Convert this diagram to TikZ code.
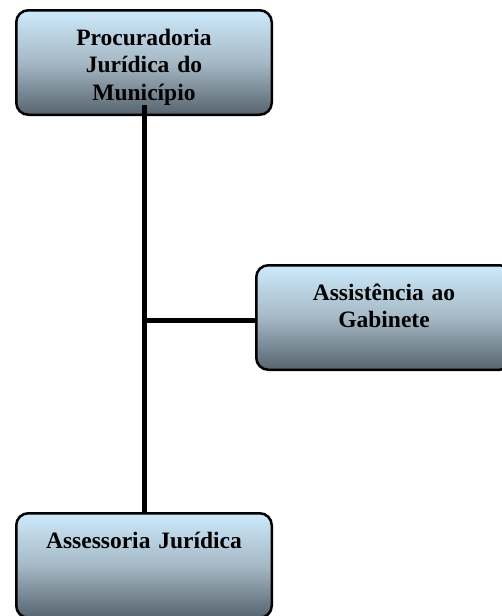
\documentclass[tikz,border=0pt]{standalone}
\usepackage{fontspec}
\setmainfont{Liberation Serif}
\usepackage{xcolor}
\usetikzlibrary{positioning}
\definecolor{boxtop}{RGB}{205,234,252}
\definecolor{boxmid}{RGB}{165,184,196}
\definecolor{boxbot}{RGB}{86,100,111}

\begin{document}
\begin{tikzpicture}[
                    every node/.append style = {font = \bfseries\fontsize{23.5}{27.5}\selectfont},
                    orgbox/.style = {draw, line width = 2.5pt, rounded corners = 12pt,
                        top color = boxtop, bottom color = boxbot, middle color = boxmid,
                        minimum width = 255.5pt, text width = 240pt, align = center,
                        inner xsep = 4pt, inner ysep = 2pt, text height = 32.75pt, text depth = 67.75pt},
                    conn/.style = {line width = 5pt}]
                \useasboundingbox (0pt,0pt) rectangle (501pt,-616pt);
                \node[orgbox, anchor = north west] (proc) at (15pt,-9pt) {Procuradoria\\ Jurídica do\\ Município};
                \node[orgbox, below right = 148pt and -18pt of proc] (gab) {Assistência ao\\ Gabinete};
                \node[orgbox, below = 396pt of proc] (asses) {Assessoria Jurídica};
                \draw[conn] ([yshift = 11pt]proc.south) -- (asses.north);
                \draw[conn] ([yshift = -2.5pt]gab.west) -- ([yshift = -2.5pt]gab.west -| proc.south);
                \end{tikzpicture}
\end{document}
